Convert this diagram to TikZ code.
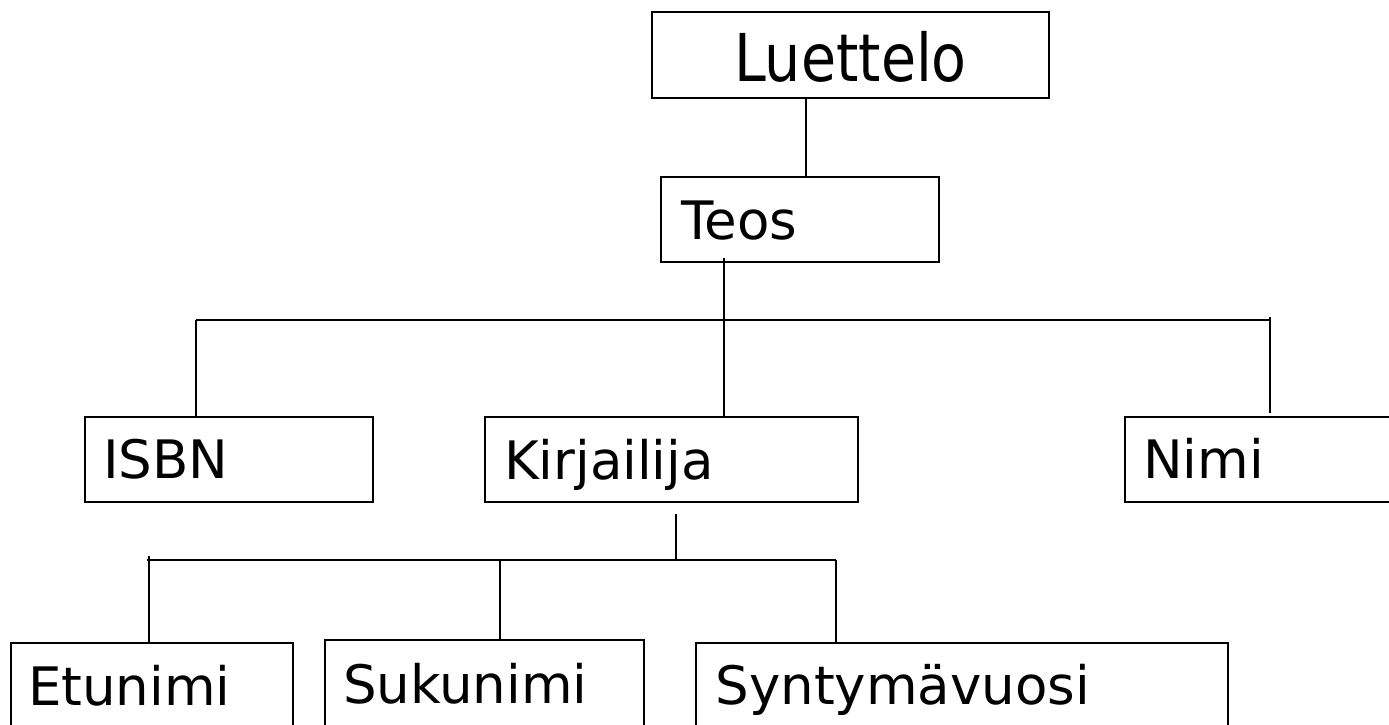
\documentclass[tikz,border=0pt]{standalone}
\usepackage{fontspec}
\setmainfont{DejaVu Sans}
\newfontfamily\luetfont{DejaVu Sans}[FakeStretch=0.865]
\begin{document}
\begin{tikzpicture}[x=1pt,y=-1pt,
  box/.style n args={4}{draw, line width=2pt, anchor=north west, align=left,
    inner ysep=0pt, inner xsep=#2, text width=#1, text height=#3, text depth=#4,
    font=\fontsize{53}{60}\selectfont},
  conn/.style={line width=1.5pt}]
\useasboundingbox (0,0) rectangle (1389,724);
\node[box={397pt}{0pt}{69pt}{17pt}, align=center, font=\luetfont\fontsize{66}{72}\selectfont] (luet) at (651,11) {Luettelo};
\node[box={238pt}{20pt}{62pt}{23pt}] (teos) at (660,176) {Teos};
\node[box={252pt}{18pt}{61pt}{24pt}] (isbn) at (84,416) {ISBN};
\node[box={335pt}{19pt}{62pt}{23pt}] (kirj) at (484,416) {Kirjailija};
\node[box={232pt}{18pt}{61pt}{24pt}] (nimi) at (1124,416) {Nimi};
\node[box={248pt}{17pt}{62pt}{25pt}] (etu) at (10,642) {Etunimi};
\node[box={283pt}{18pt}{63pt}{27pt}] (suku) at (324,639) {Sukunimi};
\node[box={493pt}{19.5pt}{61pt}{26pt}] (synt) at (695,642) {Syntymävuosi};
% Luettelo -> Teos
\draw[conn] ([xshift=155pt]luet.south west) -- ([xshift=146pt]teos.north west);
% Teos -> bus
\coordinate (busL) at (196,320);
\coordinate (busR) at (1270,320);
\draw[conn] ([xshift=64pt,yshift=5pt]teos.south west) -- ([xshift=240pt]kirj.north west);
\draw[conn] (busL) -- (busR);
\draw[conn] (busL) -- ([xshift=112pt]isbn.north west);
\draw[conn] ([yshift=3pt]busR) -- ([xshift=146pt,yshift=3pt]nimi.north west);
% Kirjailija -> lower bus
\coordinate (bus2L) at (147,560);
\coordinate (bus2R) at (836,560);
\coordinate (bus2K) at (676,560);
\draw[conn] ([xshift=192pt,yshift=-11pt]kirj.south west) -- (bus2K);
\draw[conn] (bus2L) -- (bus2R);
\draw[conn] ([yshift=4pt]bus2L -| etu.north west) ++(139,0) -- ([xshift=139pt]etu.north west);
\draw[conn] (500,560) -- ([xshift=176pt]suku.north west);
\draw[conn] (bus2R) -- ([xshift=141pt]synt.north west);
\end{tikzpicture}
\end{document}
